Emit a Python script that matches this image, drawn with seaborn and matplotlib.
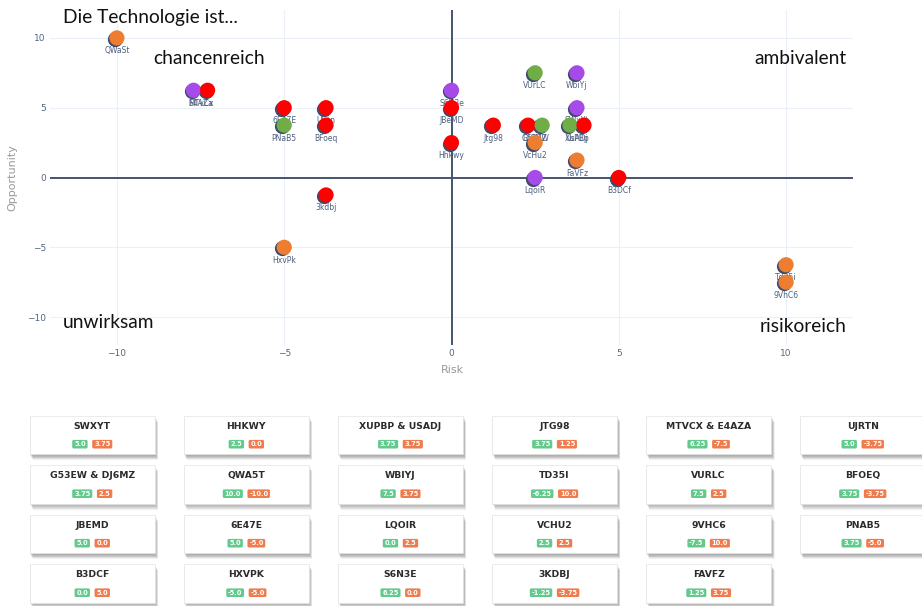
import numpy as np
import pandas as pd
import seaborn as sns
import matplotlib.pyplot as plt
from matplotlib.patches import FancyBboxPatch, Rectangle
from matplotlib.transforms import offset_copy

sns.set_style('white')
plt.rcParams['font.family'] = ['DejaVu Sans']

# one card per position, same order as the tiles below the chart
card_names = ["SWXYT", "HHKWY", "XUPBP & USADJ", "JTG98", "MTVCX & E4AZA", "UJRTN",
              "G53EW & DJ6MZ", "QWA5T", "WBIYJ", "TD35I", "VURLC", "BFOEQ",
              "JBEMD", "6E47E", "LQOIR", "VCHU2", "9VHC6", "PNAB5",
              "B3DCF", "HXVPK", "S6N3E", "3KDBJ", "FAVFZ"]
card_opportunity = [5.0, 2.5, 3.75, 3.75, 6.25, 5.0,
                    3.75, 10.0, 7.5, -6.25, 7.5, 3.75,
                    5.0, 5.0, 0.0, 2.5, -7.5, 3.75,
                    0.0, -5.0, 6.25, -1.25, 1.25]
card_risk = [3.75, 0.0, 3.75, 1.25, -7.5, -3.75,
             2.5, -10.0, 3.75, 10.0, 2.5, -3.75,
             0.0, -5.0, 2.5, 2.5, 10.0, -5.0,
             5.0, -5.0, 0.0, -3.75, 3.75]
point_labels = [["SWxYt"], ["Hhkwy"], ["XuPBp", "UsADj"], ["Jtg98"], ["MTvCx", "E4AZa"], ["UJrtn"],
                ["G53EW", "DJ6MZ"], ["QWaSt"], ["WbiYj"], ["Td35i"], ["VUrLC"], ["BFoeq"],
                ["JBeMD"], ["6E47E"], ["LqoiR"], ["VcHu2"], ["9VhC6"], ["PNaB5"],
                ["B3DCf"], ["HxvPk"], ["S6N3e"], ["3kdbj"], ["FaVFz"]]
point_colours = [["purple"], ["red"], ["green", "red"], ["red"], ["purple", "red"], ["red"],
                 ["red", "green"], ["orange"], ["purple"], ["orange"], ["green"], ["red"],
                 ["red"], ["red"], ["purple"], ["orange"], ["orange"], ["green"],
                 ["red"], ["orange"], ["purple"], ["red"], ["orange"]]

palette = {"orange": "#ED7D31", "green": "#70AD47", "purple": "#A64BEA", "red": "#FF0000"}

# points sharing one position are spread a little sideways
rows = []
for name, opp, risk, labels, cols in zip(card_names, card_opportunity, card_risk,
                                         point_labels, point_colours):
    n = len(labels)
    for i, (lab, col) in enumerate(zip(labels, cols)):
        rows.append(dict(card=name, label=lab, colour=col, risk=risk,
                         opportunity=opp, dodge=(i - (n - 1) / 2) * 0.42))
pts = pd.DataFrame(rows)
pts["risk_plot"] = pts["risk"] + pts["dodge"]

W, H = 922, 606
fig = plt.figure(figsize=(W / 100, H / 100), dpi=100)
ax = fig.add_axes([50 / W, 1 - 345 / H, 803 / W, 335 / H])
ax.set_xlim(-12, 12)
ax.set_ylim(-12, 12)
ticks = [-10, -5, 0, 5, 10]
ax.set_xticks(ticks)
ax.set_yticks(ticks)
ax.grid(True, color="#EBF0F8", lw=0.8)
ax.set_axisbelow(True)
for s in ax.spines.values():
    s.set_visible(False)
ax.axhline(0, color="#44546F", lw=1.4, zorder=1)
ax.axvline(0, color="#44546F", lw=1.4, zorder=1)
ax.tick_params(length=0, labelsize=6.5, colors="#506784", pad=3)

shadow = offset_copy(ax.transData, fig=fig, x=-2, y=-1, units='dots')
ax.scatter(pts["risk_plot"], pts["opportunity"], s=120, color="#3E4C6D",
           linewidths=0, transform=shadow, zorder=2.5)
sns.scatterplot(data=pts, x="risk_plot", y="opportunity", hue="colour", palette=palette,
                s=120, linewidth=0, legend=False, ax=ax, zorder=3)
ax.set_xlabel("")
ax.set_ylabel("")

for _, p in pts.iterrows():
    ax.annotate(p["label"], (p["risk"], p["opportunity"]), xytext=(0, -13),
                textcoords='offset pixels', ha='center', va='center',
                fontsize=5.5, color="#4D5F80", zorder=2)

fig.text(452 / W, 1 - 370 / H, "Risk", ha='center', va='center', fontsize=8, color="#9A9A9A")
fig.text(12 / W, 1 - 178 / H, "Opportunity", ha='center', va='center', rotation=90,
         fontsize=8, color="#9A9A9A")

quad_font = dict(fontsize=13.8, color="#111111", family=["Lato", "DejaVu Sans"], va='center')
fig.text(63 / W, 1 - 18 / H, "Die Technologie ist...", ha='left', **quad_font)
fig.text(153 / W, 1 - 58 / H, "chancenreich", ha='left', **quad_font)
fig.text(846 / W, 1 - 58 / H, "ambivalent", ha='right', **quad_font)
fig.text(63 / W, 1 - 322 / H, "unwirksam", ha='left', **quad_font)
fig.text(846 / W, 1 - 326 / H, "risikoreich", ha='right', **quad_font)

# cards under the chart, drawn in pixel coordinates
cax = fig.add_axes([0, 0, 1, 1])
cax.set_xlim(0, W)
cax.set_ylim(H, 0)
cax.axis('off')
cax.patch.set_alpha(0)


def badge_width(t):
    digits = sum(c.isdigit() for c in t)
    return 4.5 + 4.7 * digits + 1.5 * ('.' in t) + 2.4 * ('-' in t)


for i, (name, opp, risk) in enumerate(zip(card_names, card_opportunity, card_risk)):
    col, row = i % 6, i // 6
    x0 = 29.5 + col * 154.1
    y0 = 415.7 + row * 49.5
    w, h = 125.5, 38.5
    for k in range(1, 8):
        cax.add_patch(Rectangle((x0 + k * 0.45, y0 + k * 0.85), w, h,
                                facecolor='black', alpha=0.06, lw=0))
    cax.add_patch(Rectangle((x0, y0), w, h, facecolor='white', edgecolor='#e4e4e4', lw=0.5))
    cx = x0 + w / 2
    cax.text(cx, y0 + 10.5, name, ha='center', va='center', fontsize=6.7,
             fontweight='bold', color='#2b2b2b')
    texts = [str(opp), str(risk)]
    widths = [badge_width(t) for t in texts]
    gap = 4.6
    bx = cx - (sum(widths) + gap) / 2
    for t, bw, colr in zip(texts, widths, ['#62CB8C', '#F07B4C']):
        cax.add_patch(FancyBboxPatch((bx, y0 + 24.2), bw, 8.6,
                                     boxstyle='round,pad=0,rounding_size=1.5',
                                     fc=colr, lw=0))
        cax.text(bx + bw / 2, y0 + 28.6, t, ha='center', va='center', fontsize=4.8,
                 color='white', fontweight='bold')
        bx += bw + gap

fig.savefig("out.png", dpi=100, facecolor='white')
